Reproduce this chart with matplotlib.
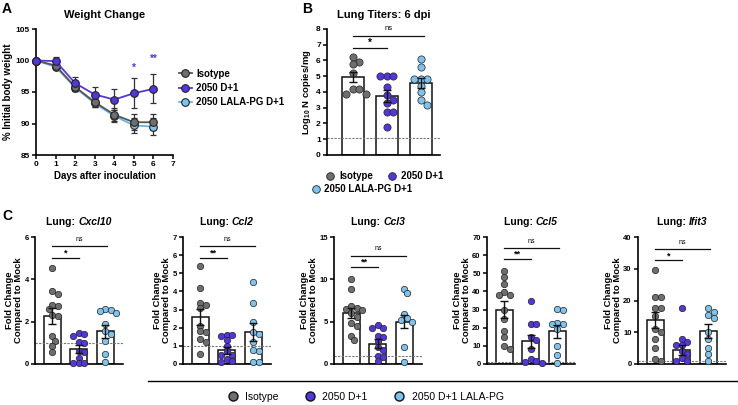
import numpy as np
import matplotlib
matplotlib.use('Agg')
import matplotlib.pyplot as plt
from matplotlib.lines import Line2D
from matplotlib.offsetbox import TextArea, HPacker, AnchoredOffsetbox

plt.rcParams['font.family'] = ['Liberation Sans', 'DejaVu Sans']
plt.rcParams['font.weight'] = 'bold'
plt.rcParams['mathtext.fontset'] = 'custom'
plt.rcParams['mathtext.rm'] = 'Liberation Sans:bold'
plt.rcParams['mathtext.bf'] = 'Liberation Sans:bold'
plt.rcParams['axes.linewidth'] = 1.2

# ---------------- data ----------------
group_names = ["Isotype", "2050 D+1", "2050 LALA-PG D+1"]
group_colors = ["#6e6e6e", "#5535e0", "#7cc3ee"]

days = [0, 1, 2, 3, 4, 5, 6]
wt_iso = [100, 99.2, 95.8, 93.4, 91.4, 90.2, 90.2]
wt_iso_err = [0, 0.5, 0.6, 0.8, 1.0, 1.3, 1.3]
wt_2050 = [100, 99.9, 96.4, 94.6, 93.8, 94.8, 95.5]
wt_2050_err = [0, 0.7, 1.0, 1.2, 1.6, 2.35, 2.3]
wt_lala = [100, 99.0, 95.7, 93.2, 91.2, 89.7, 89.5]
wt_lala_err = [0, 0.4, 0.6, 0.6, 1.0, 1.2, 1.3]
wt_star_days = [5, 6]
wt_star_y = [98.0, 99.4]
wt_star_txt = ["*", "**"]

titer_iso = [6.2, 5.9, 5.8, 5.2, 4.2, 4.2, 3.9, 3.9]
titer_2050 = [5.0, 5.0, 5.0, 4.3, 3.8, 3.5, 3.3, 2.7, 2.7, 1.8]
titer_lala = [6.1, 5.6, 4.8, 4.8, 4.8, 4.4, 4.0, 3.5, 3.2]
titer_mean = [4.95, 3.72, 4.58]
titer_sem = [0.30, 0.38, 0.30]
titer_lod = 1.1

genes = ["Cxcl10", "Ccl2", "Ccl3", "Ccl5", "Ifit3"]
gene_ymax = [6, 7, 15, 70, 40]
gene_ystep = [2, 1, 5, 10, 10]
gene_points = {
    "Cxcl10": [[4.55, 3.45, 3.3, 2.8, 2.75, 2.6, 2.3, 2.25, 1.3, 1.1, 0.85, 0.55],
               [1.48, 1.4, 1.3, 1.05, 1.0, 0.62, 0.58, 0.3, 0.05, 0.05, 0.05],
               [2.62, 2.57, 2.5, 2.42, 1.88, 1.55, 1.4, 1.1, 0.45, 0.08]],
    "Ccl2": [[5.42, 4.2, 3.35, 3.25, 3.07, 2.12, 1.83, 1.75, 1.39, 1.24, 0.55],
             [1.6, 1.6, 1.55, 1.3, 1.0, 0.7, 0.5, 0.5, 0.3, 0.15, 0.1],
             [4.5, 3.35, 2.3, 1.75, 1.65, 1.2, 0.75, 0.7, 0.1, 0.1]],
    "Ccl3": [[10.0, 8.9, 6.8, 6.6, 6.5, 6.4, 6.0, 5.6, 4.9, 4.5, 3.3, 2.8],
             [4.6, 4.3, 4.2, 3.3, 3.2, 2.7, 2.0, 1.6, 0.9, 0.8, 0.3],
             [8.9, 8.4, 5.9, 5.4, 5.2, 5.0, 2.0, 0.2]],
    "Ccl5": [[51.5, 48, 44, 39.5, 38, 38, 30, 25, 18, 15, 10, 8],
             [35, 22, 22, 15, 13, 8, 3, 1.5, 1, 0.5],
             [30.5, 30, 22.5, 22, 22, 19.5, 10, 5, 0.5]],
    "Ifit3": [[29.5, 21, 21, 17.5, 17.5, 15, 11, 10, 8, 5, 1.5, 1],
              [17.5, 8, 7, 6, 6, 4, 3, 2, 1, 1],
              [17.5, 16.5, 15.5, 14.5, 10, 8, 5, 3, 1]],
}
gene_mean = {"Cxcl10": [2.25, 0.72, 1.55], "Ccl2": [2.6, 0.75, 1.75],
             "Ccl3": [6.0, 2.4, 5.0], "Ccl5": [30, 12.5, 18], "Ifit3": [13.8, 4.5, 10.5]}
gene_sem = {"Cxcl10": [0.38, 0.18, 0.3], "Ccl2": [0.45, 0.2, 0.5],
            "Ccl3": [0.6, 0.5, 0.8], "Ccl5": [4.5, 3.5, 3.5], "Ifit3": [2.6, 1.6, 2.2]}
gene_sig = {"Cxcl10": ("*", 5.02, 5.57), "Ccl2": ("**", 5.87, 6.49),
            "Ccl3": ("**", 11.5, 12.8), "Ccl5": ("**", 58, 64), "Ifit3": ("*", 32.7, 36.2)}
gene_lod = 1.0

# ---------------- layout helpers ----------------
W, H = 738, 405
fig = plt.figure(figsize=(W / 100, H / 100), dpi=100)


def add_ax(l, t, r, b):
    return fig.add_axes([l / W, 1 - b / H, (r - l) / W, (b - t) / H])


def style_ax(ax, labelsize):
    for s in ['top', 'right']:
        ax.spines[s].set_visible(False)
    ax.tick_params(direction='out', length=3, width=1.1, labelsize=labelsize, pad=1.5)


def swarm(vals, ppx, ppy, d):
    vals = np.asarray(vals, dtype=float)
    order = np.argsort(-vals, kind='stable')
    placed = []
    offs = np.zeros(len(vals))
    step = d * 0.5
    for i in order:
        y = vals[i] * ppy
        cand = 0.0
        for k in range(60):
            cand = 0.0 if k == 0 else ((k + 1) // 2) * step * (1 if k % 2 else -1)
            if all((cand - px) ** 2 + (y - py) ** 2 >= 0.8 * d * d for px, py in placed):
                break
        placed.append((cand, y))
        offs[i] = cand / ppx
    return offs


def bar_panel(ax, pts_list, means, sems, ppx, ppy, d, ms, lod, width):
    for i, (pts, m, s, c) in enumerate(zip(pts_list, means, sems, group_colors)):
        ax.bar(i, m, width=width, color='white', edgecolor='#111111', lw=1.1, zorder=1)
        offs = swarm(pts, ppx, ppy, d)
        ax.scatter(i + offs, pts, s=ms ** 2, c=c, edgecolors='#222222',
                   linewidths=0.5, zorder=3, clip_on=False)
        ax.errorbar(i, m, yerr=s, color='#111111', capsize=2.8, lw=1.0,
                    capthick=1.0, zorder=4)
    ax.axhline(lod, ls=(0, (2, 1.2)), color='#777777', lw=0.8, zorder=2)


def sig(ax, x0, x1, y, txt, fs, dy):
    ax.plot([x0, x1], [y, y], color='#111111', lw=0.9, clip_on=False)
    ax.text((x0 + x1) / 2, y + dy, txt, ha='center', va='bottom', fontsize=fs,
            fontweight='normal' if txt == 'ns' else 'bold')


# ---------------- Panel A ----------------
axA = add_ax(36, 29, 173, 155)
style_ax(axA, 6)
series = [(wt_lala, wt_lala_err, 2), (wt_iso, wt_iso_err, 0), (wt_2050, wt_2050_err, 1)]
line_cols = ["#555555", "#5535e0", "#6ab4e6"]
for vals, errs, gi in series:
    axA.errorbar(days, vals, yerr=errs, color='#333333', ecolor='#333333', lw=0,
                 elinewidth=0.9, capsize=2.5, capthick=0.9, zorder=2)
    axA.plot(days, vals, color=line_cols[gi], lw=1.3, marker='o', ms=5.5,
             mfc=group_colors[gi], mec='#222222', mew=0.8, zorder=3, clip_on=False)
for dd, yy, tt in zip(wt_star_days, wt_star_y, wt_star_txt):
    axA.text(dd, yy, tt, color="#5535e0", ha='center', va='bottom', fontsize=7)
axA.set_xlim(0, 7)
axA.set_ylim(85, 105)
axA.set_xticks(range(0, 8))
axA.set_yticks([85, 90, 95, 100, 105])
axA.set_title("Weight Change", fontsize=8, fontweight='bold', pad=8)
axA.set_ylabel("% Initial body weight", fontsize=7, fontweight='bold', labelpad=2)
axA.set_xlabel("Days after inoculation", fontsize=7, fontweight='bold', labelpad=2)
hA = [Line2D([], [], color=line_cols[i], lw=1.3, marker='o', ms=5.5,
             mfc=group_colors[i], mec='#222222', mew=0.8) for i in range(3)]
fig.legend(hA, ["Isotype", "2050 D+1", "2050 LALA-PG D+1"], loc='center left',
           bbox_to_anchor=(174 / W, 1 - 88 / H), frameon=False, fontsize=7,
           handlelength=1.3, handletextpad=0.5, labelspacing=0.45, borderpad=0)

# ---------------- Panel B ----------------
axB = add_ax(327, 29, 440, 155)
style_ax(axB, 6)
axB.tick_params(axis='x', length=0, labelbottom=False)
bar_panel(axB, [titer_iso, titer_2050, titer_lala], titer_mean, titer_sem,
          34, 126 / 8, 6.5, 5.2, titer_lod, 0.65)
axB.set_xlim(-0.76, 2.56)
axB.set_ylim(0, 8)
axB.set_yticks(range(0, 9))
axB.set_title("Lung Titers: 6 dpi", fontsize=8, fontweight='bold', pad=8)
axB.set_ylabel(r"Log$_{10}$ N copies/mg", fontsize=6.8, fontweight='bold', labelpad=2)
sig(axB, 0, 1, 6.8, "*", 7, 0.0)
sig(axB, 0, 2.1, 7.55, "ns", 5.5, 0.25)
hB = [Line2D([], [], ls='', marker='o', ms=5.5, mfc=group_colors[i],
             mec='#222222', mew=0.6) for i in range(3)]
fig.legend(hB[:2], group_names[:2], loc='center', bbox_to_anchor=(385 / W, 1 - 176 / H),
           ncol=2, frameon=False, fontsize=7, handlelength=0.8, handletextpad=0.5,
           columnspacing=1.6, borderpad=0)
fig.legend(hB[2:], ["2050 LALA-PG D+1"], loc='center', bbox_to_anchor=(362 / W, 1 - 189 / H),
           frameon=False, fontsize=7, handlelength=0.8, handletextpad=0.5, borderpad=0)

# ---------------- Panel C ----------------
c_lefts = [35, 183, 334, 487, 638]
for gi, (g, l, ymax, ystep) in enumerate(zip(genes, c_lefts, gene_ymax, gene_ystep)):
    ax = add_ax(l, 237, l + 88, 364)
    style_ax(ax, 5.5)
    ax.tick_params(axis='x', length=0, labelbottom=False)
    bar_panel(ax, gene_points[g], gene_mean[g], gene_sem[g], 26.5, 127 / ymax,
              5.5, 4.6, gene_lod, 0.64)
    ax.set_xlim(-0.65, 2.67)
    ax.set_ylim(0, ymax)
    ax.set_yticks(np.arange(0, ymax + 0.01, ystep))
    ax.set_ylabel("Fold Change\nCompared to Mock", fontsize=6.8, fontweight='bold',
                  labelpad=1, linespacing=0.95)
    st, y1, y2 = gene_sig[g]
    sig(ax, 0, 1, y1, st, 6.5, 0.0)
    sig(ax, 0, 2.05, y2, "ns", 5, ymax * 0.025)
    box = HPacker(children=[TextArea("Lung: ", textprops=dict(fontsize=7.5, fontweight='bold')),
                            TextArea(g, textprops=dict(fontsize=7.5, fontweight='bold',
                                                       fontstyle='italic'))],
                  align='baseline', pad=0, sep=0)
    ab = AnchoredOffsetbox(loc='lower center', child=box, frameon=False, pad=0,
                           borderpad=0, bbox_to_anchor=(0.5, 1 + 10 / 127),
                           bbox_transform=ax.transAxes)
    ax.add_artist(ab)

# panel letters
fig.text(7 / W, 1 - 9 / H, "A", fontsize=10, fontweight='bold', va='center', ha='center')
fig.text(307 / W, 1 - 9 / H, "B", fontsize=10, fontweight='bold', va='center', ha='center')
fig.text(7 / W, 1 - 216 / H, "C", fontsize=10, fontweight='bold', va='center', ha='center')

# bottom legend
fig.add_artist(Line2D([148 / W, 1.0], [1 - 381 / H] * 2, color='black', lw=1.0,
                      transform=fig.transFigure))
hC = [Line2D([], [], ls='', marker='o', ms=6.5, mfc=group_colors[i],
             mec='#111111', mew=1.0) for i in range(3)]
fig.legend(hC, ["Isotype", "2050 D+1", "2050 D+1 LALA-PG"], loc='center',
           bbox_to_anchor=(366 / W, 1 - 397 / H), ncol=3, frameon=False, fontsize=7.5,
           handlelength=0.8, handletextpad=0.8, columnspacing=2.6, borderpad=0)
for t in fig.legends[-1].get_texts():
    t.set_fontweight('normal')

fig.savefig("out.png", dpi=100)
